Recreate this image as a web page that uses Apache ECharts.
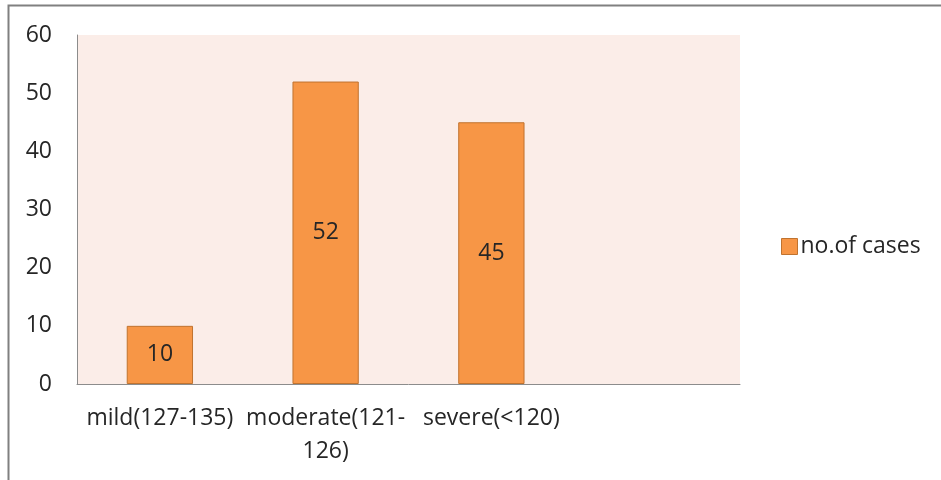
<!DOCTYPE html>
<html>
<head>
<meta charset="utf-8">
<script src="https://cdn.jsdelivr.net/npm/echarts@6/dist/echarts.min.js"></script>
<style>
  html, body { margin: 0; padding: 0; background: #ffffff; }
  #chart { width: 941px; height: 480px; }
</style>
</head>
<body>
<div id="chart"></div>
<script>
// Hypoglycaemia severity groups and number of cases in each
const categories = ['mild(127-135)', 'moderate(121-\n126)', 'severe(<120)', ''];
const cases = [10, 52, 45, null];
const seriesName = 'no.of cases';
const yTicks = { min: 0, max: 60, interval: 10 };

const FONT = '"Open Sans", sans-serif';
const FS = 23;
const chart = echarts.init(document.getElementById('chart'), null, { renderer: 'canvas' });

chart.setOption({
  animation: false,
  backgroundColor: '#ffffff',
  textStyle: { fontFamily: FONT },
  graphic: [{
    type: 'rect',
    shape: { x: 8.5, y: 5.5, width: 940, height: 480 },
    style: { fill: 'none', stroke: '#808080', lineWidth: 2 },
    silent: true
  }],
  grid: {
    left: 77, right: 201, top: 35, bottom: 96,
    show: true, backgroundColor: '#fbede8', borderWidth: 0
  },
  legend: {
    data: [seriesName],
    orient: 'vertical',
    left: 776, top: 230,
    icon: 'rect',
    itemWidth: 16, itemHeight: 16, itemGap: 6,
    textStyle: { fontSize: FS, color: '#262626', fontFamily: FONT, padding: [0, 0, 0, -2] },
    itemStyle: { borderColor: '#c0732f', borderWidth: 1 }
  },
  xAxis: {
    type: 'category',
    data: categories,
    axisLine: { show: true, lineStyle: { color: '#8c8c8c', width: 1 } },
    axisTick: { show: false },
    axisLabel: {
      interval: 0, fontSize: FS, color: '#262626', margin: 18,
      lineHeight: 33, fontFamily: FONT
    }
  },
  yAxis: {
    type: 'value',
    min: yTicks.min, max: yTicks.max, interval: yTicks.interval,
    axisLine: { show: true, lineStyle: { color: '#8c8c8c', width: 1 } },
    axisTick: { show: false },
    splitLine: { show: false },
    axisLabel: { fontSize: FS, color: '#262626', margin: 25, fontFamily: FONT }
  },
  series: [{
    name: seriesName,
    type: 'bar',
    data: cases,
    barWidth: '40%',
    itemStyle: { color: '#f79646', borderColor: '#c0732f', borderWidth: 1 },
    label: {
      show: true, position: 'inside', fontSize: FS, color: '#262626', fontFamily: FONT
    }
  }]
});
</script>
</body>
</html>
